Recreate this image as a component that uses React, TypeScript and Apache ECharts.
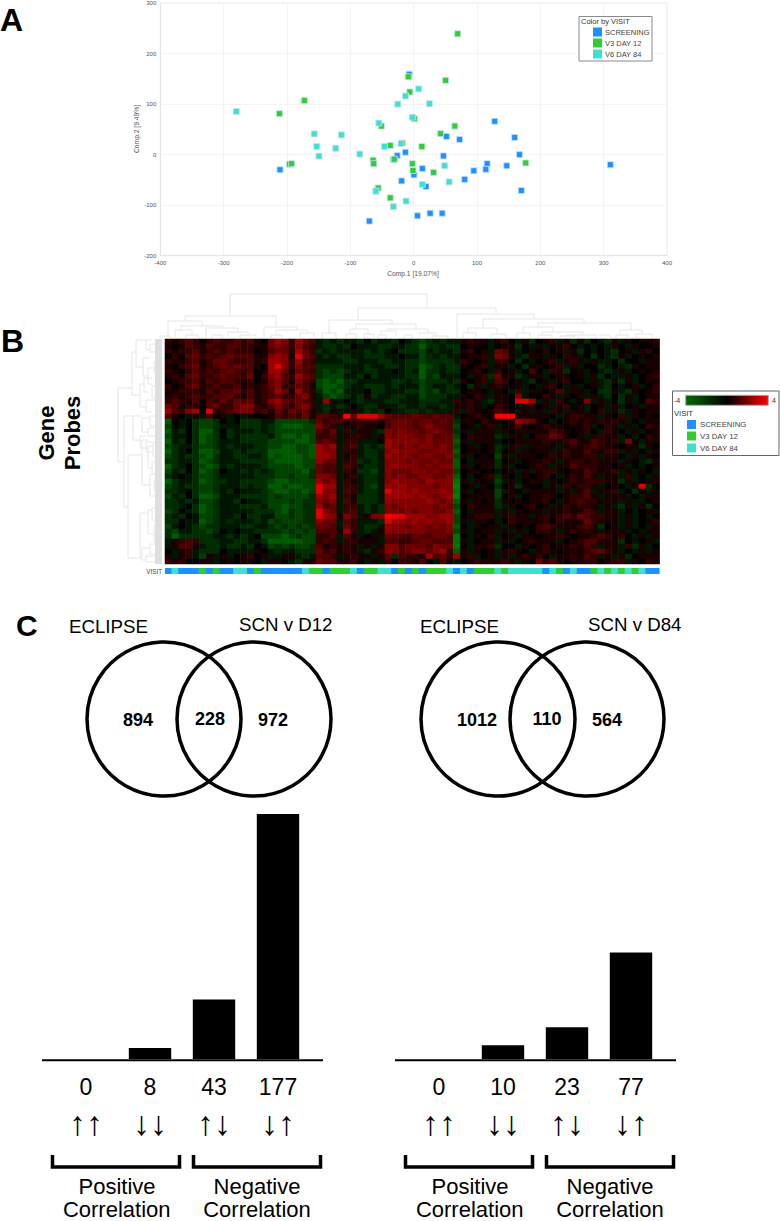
import React, { useEffect, useRef } from "react";
import * as echarts from "echarts";

const FONT = "'Liberation Sans', Arial, sans-serif";

// ---------- Panel A: PCA (Comp.1, Comp.2)
const screening = [[-211,-30],[-7,159],[-32,-10],[-26,-2],[-13,4.6],[-19,-52],[0.5,-40],[-59.5,-72.5],[-70,-131.5],[6,-121],[128,66],[159.5,34],[167,0],[51.6,36],[72.6,30],[47,-2.6],[13.7,-27.6],[116,-18],[114,-29],[147,-22],[95,-32],[80.5,-49],[19.5,-63],[170,-71],[26,-116],[45,-116],[310.5,-20]];
const day12 = [[-172.6,107],[-212,81],[-196,-19],[-192.6,-18],[-64,-11],[-63,-18],[-30.5,-9],[-37,18],[-18,23],[-51,56.5],[-8.4,154],[-6,124],[1,71],[-2,-18],[-1,-31.5],[-56,-66],[-37,-85.5],[13,16],[69.5,239],[50.5,147],[65,56.5],[42.6,41.5],[177,-16.5],[31.5,-35.5]];
const day84 = [[-280,85.5],[-157,41],[-153,16],[-149.5,-3],[-114,39],[-123,12.5],[-85,1],[-55,62.5],[-46,16],[-25,100],[-13,116],[8,130],[-2,74],[-20,22],[-59.5,-72],[-32,-103],[-12,-92],[25,100.7],[49,-22],[56,-54],[13.7,-59]];
const visitNames = ["SCREENING", "V3 DAY 12", "V6 DAY 84"];
const visitColors = ["#1e90ff", "#32cd32", "#40e0d0"];

// ---------- Panel B: heatmap in coarse cells.
// Digits: red levels. Letters: green levels. Groups of six columns.
const heatRows = [
"212320 232232 310465 2643ab abaab0 baab0a bcbaba a1211a 120a1b 012a1b 1b0ab1 a10112",
"101321 322332 211454 2532ab bab0aa abbaab bdbbab b0110a 011b0a 1a0120 a0a0a1 0a1001",
"212231 232322 201344 2642ba baaaab aba0bb bcabaa b1201a 431a01 0201a1 b0a0ab 01a120",
"020342 323433 311565 1743ab abbaab bbaa0a acbaba a0112a 541ab1 1a1021 a0b0ab 1a0101",
"211231 244322 312665 2632aa aabbaa abbaab bcbbbb a2101a 220b0a 012a12 1a1aa0 b00a11",
"102341 234343 310675 2533bb bbaaab aabbab bdcbab b1012a 11a0b1 1012a1 a00ba0 ab1011",
"210232 323432 301664 1432bc bcbaab baa0ab adbbab b0120a 201a03 0a21b0 1a0aba 1a0101",
"121342 234332 402563 2643bc ccaab0 baaaab bdbcaa a0a12b 411ba1 1a0110 1a1b0a a1a012",
"012231 323321 201453 1532cd cdbbaa aaabba bcbbba b1012a 3201ab 01a120 0a1ab1 b1a011",
"201341 232231 212452 2431cd dcbaab bbabaa acbaab a0b1a1 2101a0 a120a1 a01ab0 a01a02",
"112221 323342 312364 1632bd cdaaa0 bbaaab bcbcab b0110a 10a2a1 1013a1 1a0bb1 ab1012",
"121232 233421 312342 2451ac dcbab1 baabba acbbba a1021a 1105a0 021a10 1a1ab0 b1a011",
"232130 324243 412564 3432a6 1a0aba aabbaa abbbaa 2121ab 110776 a1a20a 05a1a0 b1a032",
"431220 342245 521353 2452ab aba0ab b1aaba abaaba 1121a0 210a12 01a120 1a01a1 a01a11",
"632560 712345 423142 4341ab 1aa1ab ab0aab babaaa 2a2101 321a1a 1a21a1 1a02a1 ba1011",
"310a1a 301a0a 100132 324133 228477 764333 433433 a01210 888111 110a12 211a10 2a1010",
"d0a0bc cb0a0b bbaacc cccb42 331222 213444 344343 b11021 101654 10a012 121212 1a0a11",
"c0a0bc cbaaab bbabcd ddcc53 2a1121 103444 345433 c01a12 a01310 121101 12a021 a1a021",
"dab0bd db0baa ababcc cccc32 4a2a11 ab5454 434543 b1a111 a10111 113210 120a21 0a1a01",
"caa0bd cb0bab bbbacd dcdc22 3a1221 a15455 445344 c02111 ba11a0 224310 1a1211 a0a021",
"dab0bd cbaaab bbbccc cddc34 3a22aa a06555 545444 d1a111 a00111 121123 113212 a50a11",
"cbaabc cbabaa abbccd dccd65 6a23ab ab6545 455454 c01a01 ba12a1 111a12 123211 011b10",
"dba0bd dcaaba bbbddd dccd65 5a21ab ba5655 544554 d01101 b01a10 11a121 131122 a1a0a1",
"cbabbc dbaabb aabdcd ddcd66 5a12ab ba6555 455445 c1a010 c1a111 012121 122a11 0a1a10",
"bbaabd cbaaab bbbcdd ddcc64 4a22ba ba5554 544544 d0a111 b01a01 121a12 212111 a10ab1",
"dba0bc dcabaa aabccc cdcc43 3a32ab ba5655 545455 d1a011 b1a001 21a113 222110 1a0a01",
"cab0bd cb0aab ababcc ccdb42 3a21bb ca5444 554544 c01100 a01a1a 122101 132112 a1a10a",
"ba0abc cbaaaa abbbcc bccb55 4a12ab ba5454 455445 d0a012 b10a10 120a12 131a11 a2a0a1",
"dbaabd cbbaab bbbcdd cccc64 5a21ab ba5655 546555 e1a101 ca1a01 1a1012 122211 b1a011",
"cbabbc cbaaab abbddc ddcc76 6a22ab ca6565 555455 f01a10 b01b10 0a1a21 221a01 0a17b0",
"bba0bc cbab0a aabcdd ccdc75 5a32ab ba7665 655565 e1a011 ca10a1 111a1a 13a112 a0b0a1",
"cab0bd dcaaab bbbcbc cccb65 6a21bb ba6666 565456 f01111 c01a01 121012 231a11 1a0a11",
"bbabac cbaab0 aabccc bcbb54 5a31bb ba6555 556545 d1a101 b10101 120a12 322111 a1aa01",
"bba0bd cbaaab bbaccd ccbb63 4a22ab ab5455 555454 c02111 ba1012 01a121 221a1a b1a1b0",
"cb0abd cbaaaa abbbcd bcbb75 4a23ab ab5545 455445 d0a111 a1a101 1a1121 132a11 a0a011",
"bab0ac cbaab0 bbaacc bcbb76 5153a1 558776 665566 c01222 a1211a 121232 432211 a1a0a0",
"bb0aad cbabaa abacbc ccbb54 4a32aa ab7665 656556 c1a110 a02111 120211 142111 a1a012",
"ca0abc bbaaab baabcb cbcb44 3a42ab ba6554 554545 d0a101 1a1010 232111 231b01 a1a0a1",
"bcaabb cb0a0a abbbbc bcbc33 3162ab a16555 554445 c1a011 a1a1a0 221a12 121a11 1a0a11",
"bdbbbb baabab a0cccd cbcc22 3a31a0 1a4332 433443 e0a102 a01a11 011210 112321 20a1a1",
"a1232b bbaabb aabddd ddcc23 2a2211 1a3322 344333 e1a011 a1a012 111a01 233111 b0a01a",
"a1331a bbabba b0acbc bccb31 2121a1 a15534 443544 e0a112 b00a10 120112 132a11 a2b1a0",
"0a12ab bb0aaa a10aba abbb42 3121ab 125534 554562 d1a101 a1210a 121011 123421 a0a1a1",
"1a12ac 1a1a01 201aa1 1aba33 2a1211 a14b32 216342 612a01 a1a121 20a112 132a1a 1b0111",
"212001 1a0101 10a110 ab1143 31120a 1a2022 130a31 a01211 121a10 423101 122012 2a1021",
];
// Visit of each heatmap column: 0 screening, 1 day 12, 2 day 84
const columnVisits = "0 2 0 0 0 1 0 1 0 0 2 2 0 1 0 0 0 0 0 0 2 1 1 0 1 1 1 2 0 1 1 2 2 0 1 0 1 0 1 1 1 2 0 2 0 1 1 1 2 1 2 2 2 2 2 0 2 1 0 2 0 0 1 2 1 2 1 2 1 2 0 0".split(" ").map(Number);

// ---------- Panel C
const vennLeft = ["894", "228", "972"];
const vennRight = ["1012", "110", "564"];
const arrowLabels = ["↑↑", "↓↓", "↑↓", "↓↑"];
const countsD12 = [0, 8, 43, 177];
const countsD84 = [0, 10, 23, 77];

// Dendrogram outlines (layout decoration)
const topTree = [
[230,427,294,316,308],[185,276,316,321,327],[358,496,308,320,314],[168,202,321,338,326],[181,223,326,330,328],[175,192,330,338,335],
[206,238,328,338,332],[228,248,332,336,335],[264,297,327,338,330],[276,307,330,335,333],[271,282,335,338,338],[300,314,333,338,337],[186,198,335,338,338],
[329,392,320,333,324],[322,336,333,338,338],[356,416,324,329,329],[350,368,329,334,334],[346,356,334,338,338],[364,374,334,338,338],[388,428,329,331,333],[381,396,331,335,336],[378,386,335,338,338],[420,436,333,336,336],[432,448,336,338,338],[404,412,335,338,338],
[457,534,314,338,319],[483,584,319,328,323],[468,497,328,333,334],[463,476,333,338,337],[491,506,334,337,338],[538,631,323,327,330],[523,553,327,333,332],[517,530,333,338,338],[542,583,332,335,335],[538,552,335,338,338],[566,596,335,337,338],[620,642,330,335,334],[616,628,335,338,338],[636,652,334,338,337],[560,574,336,338,338],[600,610,335,338,338],
[212,222,335,338,338],[240,256,335,338,337],[160,170,336,338,338],
];
const leftTree = [
[118,388,462,127,124],[127,388,388,132,132],[132,352,395,136,140],[136,340,367,146,143],[146,340,350,152,150],[143,358,376,150,148],[150,344,352,156,156],[148,368,384,154,152],[154,362,372,158,158],[140,384,407,144,146],[144,378,392,152,148],[146,400,412,156,152],[152,386,398,158,156],
[124,416,507,133,128],[133,416,440,142,140],[142,418,432,150,148],[140,436,448,146,148],[150,416,426,156,156],[148,428,436,154,156],[146,442,452,152,154],
[128,455,558,142,140],[142,440,485,148,150],[148,446,468,153,152],[150,474,496,154,156],[153,442,456,158,158],[152,462,474,158,156],[154,480,490,158,158],[156,492,502,158,158],
[140,513,558,148,142],[148,510,534,152,154],[152,508,520,158,156],[154,526,542,158,158],[142,548,560,150,146],[150,544,554,158,158],[146,556,562,156,156],[156,344,352,160,160],[156,404,414,160,160],[156,432,444,160,160],[156,462,474,160,160],[156,516,526,160,160],[156,536,548,160,160],
];

function App() {
  const ref = useRef<HTMLDivElement>(null);
  useEffect(() => {
    document.body.style.margin = "0";
    const chart = echarts.init(ref.current!, undefined, { renderer: "svg", width: 780, height: 1221 });

    const matrix = heatRows.map((r) => r.replace(/ /g, "").split("").map((c) => {
      if (/\d/.test(c)) { const n = Number(c); return n >= 7 ? n * 0.5 : n * 0.4; }
      return -(c.charCodeAt(0) - 96) * 0.7;
    }));
    const heatData: number[][] = [];
    matrix.forEach((row, y) => row.forEach((v, x) => heatData.push([x, y, Math.max(-4, v)])));
    const columns = columnVisits.map((_, i) => String(i));
    const rowsCat = matrix.map((_, i) => String(i));

    const text = (t: string, x: number, y: number, o: any = {}) => ({
      type: "text", x, y, rotation: o.rotation || 0, silent: true, z: 10,
      style: { text: t, fontFamily: FONT, fontSize: o.size || 7, fontWeight: o.weight || "normal", fill: o.fill || "#000",
        align: o.align || "left", verticalAlign: "middle" },
    });
    const line = (pts: number[][], stroke: string, lineWidth: number) => ({
      type: "polyline", silent: true, z: 5, shape: { points: pts }, style: { stroke, lineWidth, fill: "none" },
    });
    const box = (x: number, y: number, w: number, h: number, fill: any, stroke = "none", lineWidth = 0, z = 6) => ({
      type: "rect", silent: true, z, shape: { x, y, width: w, height: h }, style: { fill, stroke, lineWidth },
    });
    const ring = (cx: number, cy: number, r: number) => ({
      type: "circle", silent: true, z: 5, shape: { cx, cy, r }, style: { fill: "none", stroke: "#000", lineWidth: 3.5 },
    });

    const elements: any[] = [];
    // panel letters
    elements.push(text("A", 0, 20, { size: 32, weight: "bold" }));
    elements.push(text("B", 1, 341, { size: 32, weight: "bold" }));
    elements.push(text("C", 16, 625, { size: 30, weight: "bold" }));
    // panel A
    elements.push(text("Comp.2 [9.49%]", 136, 129, { size: 6.7, rotation: Math.PI / 2, align: "center", fill: "#555" }));
    elements.push(text("Comp.1 [19.07%]", 413, 273, { size: 6.7, align: "center", fill: "#555" }));
    elements.push(box(579, 16.5, 73, 44.5, "#fff", "#8a8a8a", 1));
    elements.push(text("Color by VISIT", 581, 21.5, { size: 7.5, fill: "#333" }));
    visitNames.forEach((n, i) => {
      const cy = [32, 43, 54][i];
      elements.push(box(593, cy - 4.5, 9, 9, visitColors[i], "none", 0, 11));
      elements.push(text(n, 605, cy, { size: 7.5, fill: "#444" }));
    });
    // panel B
    elements.push(text("Gene", 46, 433, { size: 22, weight: "bold", rotation: Math.PI / 2, align: "center" }));
    elements.push(text("Probes", 72, 433, { size: 22, weight: "bold", rotation: Math.PI / 2, align: "center" }));
    elements.push(text("VISIT", 162, 571, { size: 6.3, align: "right", fill: "#444" }));
    elements.push(box(155, 339, 7, 225, "#dedede"));
    topTree.forEach(([a, b, y, ya, yb]) => elements.push(line([[a, ya], [a, y], [b, y], [b, yb]], "#e6e6e6", 1)));
    leftTree.forEach(([x, y1, y2, e1, e2]) => elements.push(line([[e1, y1], [x, y1], [x, y2], [e2, y2]], "#e6e6e6", 1)));
    elements.push(box(672.5, 391, 106.5, 64.5, "none", "#666", 1));
    elements.push(box(685.7, 395.3, 82.6, 10, new echarts.graphic.LinearGradient(0, 0, 1, 0, [
      { offset: 0, color: "#006a00" }, { offset: 0.5, color: "#000000" }, { offset: 1, color: "#ff0000" },
    ]), "#aaa", 1, 20));
    elements.push(text("-4", 674, 400.5, { size: 7, fill: "#333" }));
    elements.push(text("4", 772, 400.5, { size: 7, fill: "#333" }));
    elements.push(text("VISIT", 674, 413.5, { size: 7.6, fill: "#333" }));
    visitNames.forEach((n, i) => {
      const cy = [424.5, 436, 448][i];
      elements.push(box(687, cy - 4.5, 9, 9, visitColors[i], "none", 0, 11));
      elements.push(text(n, 700, cy, { size: 7.8, fill: "#444" }));
    });
    // panel C venn
    [[164, 254, 719], [498, 587, 719]].forEach(([a, b, cy]) => {
      elements.push(ring(a, cy, 77));
      elements.push(ring(b, cy, 77));
    });
    elements.push(text("ECLIPSE", 69, 626, { size: 18.7 }));
    elements.push(text("SCN v D12", 239, 624, { size: 18.7 }));
    elements.push(text("ECLIPSE", 420, 626, { size: 18.7 }));
    elements.push(text("SCN v D84", 588, 624, { size: 18.7 }));
    const numPos = [[138, 720], [210, 719], [273, 720]];
    vennLeft.forEach((v, i) => elements.push(text(v, numPos[i][0], numPos[i][1], { size: 18, weight: "bold", align: "center" })));
    const numPos2 = [[477, 720], [547, 719], [607, 720]];
    vennRight.forEach((v, i) => elements.push(text(v, numPos2[i][0], numPos2[i][1], { size: 18, weight: "bold", align: "center" })));
    // panel C baselines, brackets, captions
    [0, 353].forEach((dx) => {
      elements.push(line([[42 + dx, 1060.3], [323 + dx, 1060.3]], "#000", 2));
      elements.push(line([[52.5 + dx, 1155], [52.5 + dx, 1167], [179.5 + dx, 1167], [179.5 + dx, 1155]], "#000", 3.5));
      elements.push(line([[193.5 + dx, 1155], [193.5 + dx, 1167], [320.5 + dx, 1167], [320.5 + dx, 1155]], "#000", 3.5));
      elements.push(text("Positive", 117 + dx, 1186, { size: 22, align: "center" }));
      elements.push(text("Correlation", 116.7 + dx, 1209, { size: 22, align: "center" }));
      elements.push(text("Negative", 257 + dx, 1186, { size: 22, align: "center" }));
      elements.push(text("Correlation", 257 + dx, 1209, { size: 22, align: "center" }));
    });

    const scatterSeries = [screening, day12, day84].map((d, i) => ({
      type: "scatter", name: visitNames[i], xAxisIndex: 0, yAxisIndex: 0, data: d, symbol: "rect", symbolSize: 6,
      itemStyle: { color: visitColors[i], borderColor: "rgba(200,225,245,0.8)", borderWidth: 1, opacity: 1 },
    }));
    const barAxisLabel = {
      interval: 0, margin: 10, fontFamily: FONT, color: "#000",
      formatter: (v: string, i: number) => `{n|${v}}\n{a|${arrowLabels[i]}}`,
      rich: { n: { fontSize: 23, lineHeight: 36, fontFamily: FONT, color: "#000" }, a: { fontSize: 34, lineHeight: 36, fontFamily: FONT, color: "#000" } },
    };
    const scatterAxis = {
      axisLine: { show: true, onZero: false, lineStyle: { color: "#e4e4e4" } }, axisTick: { show: false },
      splitLine: { show: true, lineStyle: { color: "#f4f4f4", width: 1 } },
      axisLabel: { fontSize: 6, color: "#555", fontFamily: FONT, margin: 4 },
    };

    chart.setOption({
      animation: false,
      backgroundColor: "#fff",
      grid: [
        { left: 160.3, top: 2.5, width: 506.7, height: 253.2, show: true, borderColor: "#e8e8e8", borderWidth: 1 },
        { left: 165, top: 339, width: 494.6, height: 225 },
        { left: 165, top: 568, width: 494.6, height: 6 },
        { left: 54, top: 814, width: 256, height: 245 },
        { left: 407, top: 814, width: 256, height: 245 },
      ],
      xAxis: [
        { type: "value", gridIndex: 0, min: -400, max: 400, interval: 100, ...scatterAxis },
        { type: "category", gridIndex: 1, data: columns, show: false },
        { type: "category", gridIndex: 2, data: columns, show: false },
        { type: "category", gridIndex: 3, data: countsD12.map(String), axisLine: { show: false }, axisTick: { show: false }, axisLabel: barAxisLabel },
        { type: "category", gridIndex: 4, data: countsD84.map(String), axisLine: { show: false }, axisTick: { show: false }, axisLabel: barAxisLabel },
      ],
      yAxis: [
        { type: "value", gridIndex: 0, min: -200, max: 300, interval: 100, ...scatterAxis },
        { type: "category", gridIndex: 1, data: rowsCat, inverse: true, show: false },
        { type: "value", gridIndex: 2, min: 0, max: 1, show: false },
        { type: "value", gridIndex: 3, min: 0, max: 177, show: false },
        { type: "value", gridIndex: 4, min: 0, max: 177, show: false },
      ],
      visualMap: {
        type: "continuous", min: -4, max: 4, seriesIndex: 3, show: false,
        inRange: { color: ["#008000", "#000000", "#ff0000"] },
      },
      series: [
        ...scatterSeries,
        { type: "heatmap", xAxisIndex: 1, yAxisIndex: 1, data: heatData, progressive: 0, itemStyle: { borderWidth: 0 }, emphasis: { disabled: true } },
        {
          type: "bar", xAxisIndex: 2, yAxisIndex: 2, barWidth: 7.8, silent: true,
          data: columnVisits.map((v) => ({ value: 1, itemStyle: { color: visitColors[v] } })),
        },
        { type: "bar", xAxisIndex: 3, yAxisIndex: 3, barWidth: 42.4, data: countsD12, itemStyle: { color: "#000" }, silent: true },
        { type: "bar", xAxisIndex: 4, yAxisIndex: 4, barWidth: 42.4, data: countsD84, itemStyle: { color: "#000" }, silent: true },
      ],
      graphic: { elements },
    });
    return () => chart.dispose();
  }, []);
  return <div ref={ref} style={{ width: 780, height: 1221, position: "absolute", left: 0, top: 0 }} />;
}

export default App;
